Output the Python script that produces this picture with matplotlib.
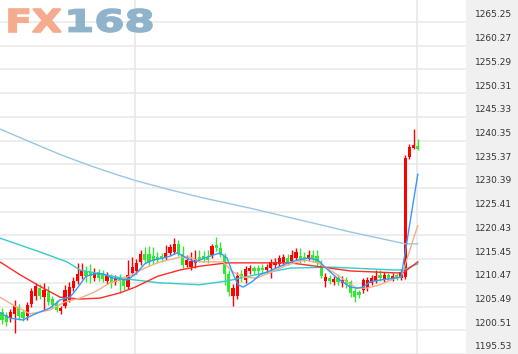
import matplotlib
matplotlib.use("Agg")
import matplotlib.pyplot as plt
import matplotlib.transforms as mtransforms
from matplotlib.textpath import TextPath
from matplotlib.patches import PathPatch
from matplotlib.font_manager import FontProperties

# candles (one per bar)
opens = [1202.9, 1202.3, 1201.6, 1202.5, 1203.9, 1202.9, 1202.0, 1204.6, 1206.2, 1207.9,
         1206.0, 1207.1, 1205.6, 1204.8, 1203.1, 1204.1, 1205.4, 1207.9, 1209.4, 1210.4,
         1211.5, 1211.3, 1210.0, 1211.3, 1210.9, 1209.4, 1210.2, 1209.2, 1210.0, 1209.8,
         1208.1, 1211.1, 1211.5, 1213.4, 1215.1, 1215.1, 1214.6, 1214.4, 1214.6, 1214.2,
         1215.3, 1215.5, 1217.2, 1215.1, 1212.8, 1212.3, 1213.2, 1214.4, 1214.6, 1214.4,
         1214.9, 1217.0, 1216.3, 1214.6, 1210.9, 1206.2, 1206.2, 1210.9, 1209.6, 1211.5,
         1212.1, 1212.1, 1212.1, 1211.7, 1212.1, 1212.8, 1213.0, 1213.4, 1214.2, 1213.6,
         1214.2, 1214.6, 1214.4, 1214.0, 1214.9, 1214.6, 1212.8, 1209.4, 1210.0, 1209.2,
         1210.0, 1209.0, 1209.6, 1209.2, 1207.3, 1207.1, 1207.5, 1207.9, 1209.0, 1209.4,
         1210.7, 1209.6, 1210.7, 1209.8, 1210.7, 1210.0, 1210.2, 1235.4, 1237.3, 1237.7]

closes = [1201.2, 1200.8, 1202.9, 1204.1, 1202.0, 1201.6, 1204.4, 1207.3, 1208.3, 1206.2,
          1207.5, 1205.0, 1204.4, 1203.3, 1203.7, 1207.5, 1208.1, 1209.4, 1210.9, 1211.7,
          1210.4, 1210.4, 1211.1, 1210.0, 1209.8, 1210.4, 1209.0, 1210.0, 1209.4, 1208.3,
          1210.7, 1212.3, 1213.2, 1215.1, 1213.8, 1213.4, 1213.6, 1213.8, 1214.0, 1215.3,
          1216.5, 1217.2, 1215.1, 1212.8, 1213.8, 1213.6, 1214.0, 1213.8, 1214.0, 1213.8,
          1216.7, 1216.3, 1214.9, 1210.9, 1207.1, 1207.9, 1210.4, 1210.0, 1211.9, 1212.1,
          1211.5, 1211.5, 1211.7, 1212.3, 1213.4, 1213.4, 1214.2, 1214.4, 1213.4, 1214.9,
          1215.5, 1213.8, 1214.0, 1214.9, 1214.0, 1213.2, 1210.4, 1210.2, 1209.4, 1209.8,
          1209.2, 1209.6, 1208.8, 1206.9, 1206.0, 1206.5, 1209.6, 1209.6, 1210.0, 1210.4,
          1210.0, 1210.7, 1210.0, 1210.4, 1210.0, 1211.3, 1235.2, 1237.5, 1238.0, 1237.1]

highs = [1203.7, 1202.9, 1203.5, 1205.4, 1204.6, 1203.5, 1205.0, 1207.9, 1209.0, 1208.8,
         1209.0, 1208.3, 1206.2, 1205.4, 1204.1, 1208.6, 1209.2, 1210.2, 1213.2, 1213.2,
         1212.5, 1213.0, 1212.1, 1211.9, 1211.7, 1211.3, 1210.9, 1210.7, 1210.9, 1210.4,
         1213.8, 1214.4, 1214.0, 1215.9, 1216.5, 1216.7, 1216.5, 1215.5, 1215.3, 1217.0,
         1217.2, 1218.4, 1218.0, 1216.7, 1214.9, 1215.5, 1215.9, 1215.9, 1215.7, 1215.9,
         1217.2, 1218.6, 1217.6, 1215.3, 1211.7, 1208.8, 1211.3, 1211.7, 1212.5, 1212.8,
         1212.5, 1212.8, 1213.0, 1213.0, 1214.0, 1214.2, 1214.9, 1215.1, 1215.1, 1215.9,
         1216.3, 1216.3, 1215.5, 1215.9, 1215.9, 1215.9, 1213.8, 1211.1, 1210.7, 1210.4,
         1210.9, 1210.4, 1210.2, 1209.6, 1207.9, 1207.5, 1210.0, 1210.2, 1210.7, 1211.7,
         1211.7, 1211.3, 1211.1, 1211.1, 1211.1, 1211.9, 1235.9, 1238.2, 1241.3, 1239.2]

lows = [1200.4, 1199.9, 1200.8, 1198.5, 1201.2, 1201.0, 1201.2, 1203.9, 1205.4, 1205.6,
        1203.3, 1204.4, 1203.7, 1202.9, 1202.5, 1203.7, 1205.0, 1207.3, 1208.8, 1209.8,
        1209.2, 1209.0, 1209.4, 1209.4, 1209.2, 1208.8, 1207.9, 1208.6, 1206.9, 1207.5,
        1207.7, 1210.7, 1210.9, 1212.8, 1213.2, 1212.8, 1213.0, 1213.2, 1213.4, 1213.8,
        1214.9, 1215.1, 1214.6, 1212.1, 1212.3, 1211.7, 1212.1, 1213.4, 1213.4, 1213.2,
        1214.2, 1215.7, 1214.4, 1208.6, 1206.2, 1204.1, 1205.6, 1209.2, 1209.0, 1210.9,
        1210.9, 1210.7, 1211.1, 1211.3, 1210.0, 1212.1, 1212.5, 1212.8, 1212.8, 1213.2,
        1213.8, 1213.2, 1213.4, 1213.6, 1213.4, 1212.3, 1210.0, 1208.1, 1208.8, 1208.6,
        1208.6, 1208.1, 1207.9, 1206.0, 1205.0, 1205.8, 1206.9, 1207.3, 1208.6, 1209.0,
        1209.4, 1209.2, 1209.6, 1209.4, 1209.6, 1209.6, 1209.8, 1235.0, 1237.1, 1236.9]

# moving averages (bar position, value)
ma_blue_x = [-0.5, 1.9, 5.0, 7.4, 11.4, 13.8, 16.2, 18.1, 20.0, 22.1, 24.0, 26.4, 29.8,
             31.9, 34.0, 36.0, 38.3, 40.0, 41.7, 44.0, 46.0, 48.8, 51.9, 53.6, 54.8, 56.2,
             57.4, 59.5, 61.4, 64.3, 68.1, 70.5, 72.9, 75.2, 76.9, 79.8, 82.9, 84.5, 86.0,
             87.6, 90.0, 93.6, 95, 96, 97, 98, 99]
ma_blue_y = [1202.7, 1201.6, 1201.2, 1202.3, 1203.7, 1205.4, 1206.0, 1208.1, 1210.4, 1210.9,
             1210.9, 1210.0, 1209.6, 1210.9, 1213.0, 1213.8, 1214.2, 1214.6, 1215.3, 1214.2,
             1213.4, 1214.4, 1215.3, 1214.2, 1211.3, 1208.6, 1208.1, 1209.2, 1210.7, 1211.7,
             1213.2, 1213.8, 1214.2, 1213.8, 1212.3, 1210.0, 1208.1, 1207.9, 1208.1, 1209.2,
             1209.6, 1210.0, 1210.2, 1215.4, 1220.9, 1226.4, 1231.8]

ma_tan_x = [-0.5, 3.1, 6.7, 11.4, 15.0, 18.6, 22.1, 25.7, 29.3, 34.0, 37.6, 42.4, 44.8,
            47.1, 52.6, 55.0, 57.4, 60.7, 64.3, 68.1, 72.1, 75.2, 78.8, 82.1, 84.5, 86.9,
            90.0, 93.6, 95, 96, 97, 98, 99]
ma_tan_y = [1206.0, 1204.1, 1202.5, 1203.3, 1205.0, 1205.8, 1207.1, 1209.0, 1210.0, 1212.1,
            1213.4, 1214.4, 1214.4, 1213.4, 1213.4, 1211.3, 1210.2, 1210.0, 1211.3, 1212.8,
            1213.8, 1213.2, 1211.3, 1209.2, 1207.9, 1207.9, 1208.6, 1210.0, 1210.2, 1212.8,
            1215.6, 1218.4, 1221.0]

ma_red_x = [-0.5, 4.3, 9.0, 13.8, 18.6, 23.3, 28.1, 31.7, 37.1, 42.4, 47.1, 53.6, 61.4,
            68.6, 78.1, 82.9, 93.6, 95.5, 99]
ma_red_y = [1213.4, 1210.7, 1208.3, 1206.0, 1205.6, 1205.8, 1206.9, 1208.1, 1210.4, 1211.7,
            1212.5, 1213.2, 1213.2, 1213.2, 1212.1, 1211.5, 1211.1, 1211.1, 1213.4]

ma_cyan_x = [-0.5, 9.0, 15.5, 18.6, 23.3, 29.8, 37.6, 47.1, 53.6, 62.6, 68.6, 78.1, 93.6,
             95.5, 99]
ma_cyan_y = [1218.4, 1215.5, 1213.4, 1211.7, 1210.9, 1209.8, 1209.0, 1208.6, 1209.4, 1211.1,
             1212.1, 1212.3, 1211.7, 1211.7, 1213.0]

ma_long_x = [-0.5, 6.7, 14.0, 21.0, 27.4, 31.7, 39.3, 47.1, 59.0, 71.0, 82.9, 96.0, 99]
ma_long_y = [1241.3, 1238.6, 1235.9, 1233.6, 1231.7, 1230.5, 1228.7, 1227.0, 1224.7, 1222.2,
             1219.7, 1217.2, 1217.2]

price_labels = ["1265.25", "1260.27", "1255.29", "1250.31", "1245.33", "1240.35", "1235.37",
                "1230.39", "1225.41", "1220.43", "1215.45", "1210.47", "1205.49", "1200.51",
                "1195.53"]
date_lines = [31.7, 98.8]

W, H = 518, 354
fig = plt.figure(figsize=(W / 100, H / 100), dpi=100)
ax = fig.add_axes([0, 0, 466 / W, 1])
side = fig.add_axes([466 / W, 0, 52 / W, 1])

ylo, yhi = 1194.06, 1268.40
ax.set_xlim(-0.476, 110.476)
ax.set_ylim(ylo, yhi)
side.set_ylim(ylo, yhi)
side.set_xlim(0, 1)

for a in (ax, side):
    a.set_xticks([])
    a.set_yticks([])
    for s in a.spines.values():
        s.set_visible(False)
side.set_facecolor("#f0f0f0")

# grid
for lab in price_labels:
    ax.axhline(float(lab) - 1.47, color="#ededed", lw=1.4, zorder=0)
for d in date_lines:
    ax.axvline(d, color="#e8e8e8", lw=1.2, zorder=0)

# candles
idx = list(range(len(opens)))
colors = ["#ff0000" if c >= o else "#33e833" for o, c in zip(opens, closes)]
ax.vlines(idx, lows, highs, colors=colors, lw=1, zorder=2)
bottoms = [min(o, c) for o, c in zip(opens, closes)]
heights = [max(abs(c - o), 0.3) for o, c in zip(opens, closes)]
ax.bar(idx, heights, 0.72, bottom=bottoms, color=colors, lw=0, zorder=3)

# moving averages
ax.plot(ma_long_x, ma_long_y, color="#9ac6e6", lw=1, zorder=4)
ax.plot(ma_cyan_x, ma_cyan_y, color="#33cccc", lw=1, zorder=4)
ax.plot(ma_red_x, ma_red_y, color="#ff2a2a", lw=1, zorder=4)
ax.plot(ma_tan_x, ma_tan_y, color="#f0b084", lw=1, zorder=4)
ax.plot(ma_blue_x, ma_blue_y, color="#3399ff", lw=1, zorder=5)

# price labels on the right
tr = mtransforms.blended_transform_factory(side.transAxes, side.transData)
for lab in price_labels:
    side.text(0.17, float(lab), lab, transform=tr, fontsize=6.5, va="center",
              ha="left", color="#333333")

# FX168 watermark
fp = FontProperties(family="DejaVu Sans", weight="bold")


def logo(txt, color, x0, x1, top, bot):
    tp = TextPath((0, 0), txt, size=1, prop=fp)
    ext = tp.get_extents()
    t = (mtransforms.Affine2D().translate(-ext.x0, -ext.y0)
         .scale((x1 - x0) / ext.width, (bot - top) / ext.height)
         .translate(x0, H - bot))
    fig.add_artist(PathPatch(tp, transform=t, facecolor=color, edgecolor=color,
                             lw=1.2, zorder=10))


logo("FX", "#f5ab8e", 9, 61, 9, 32)
logo("168", "#8fb3cb", 69, 152, 9, 32)

fig.savefig("out.png", dpi=100)
